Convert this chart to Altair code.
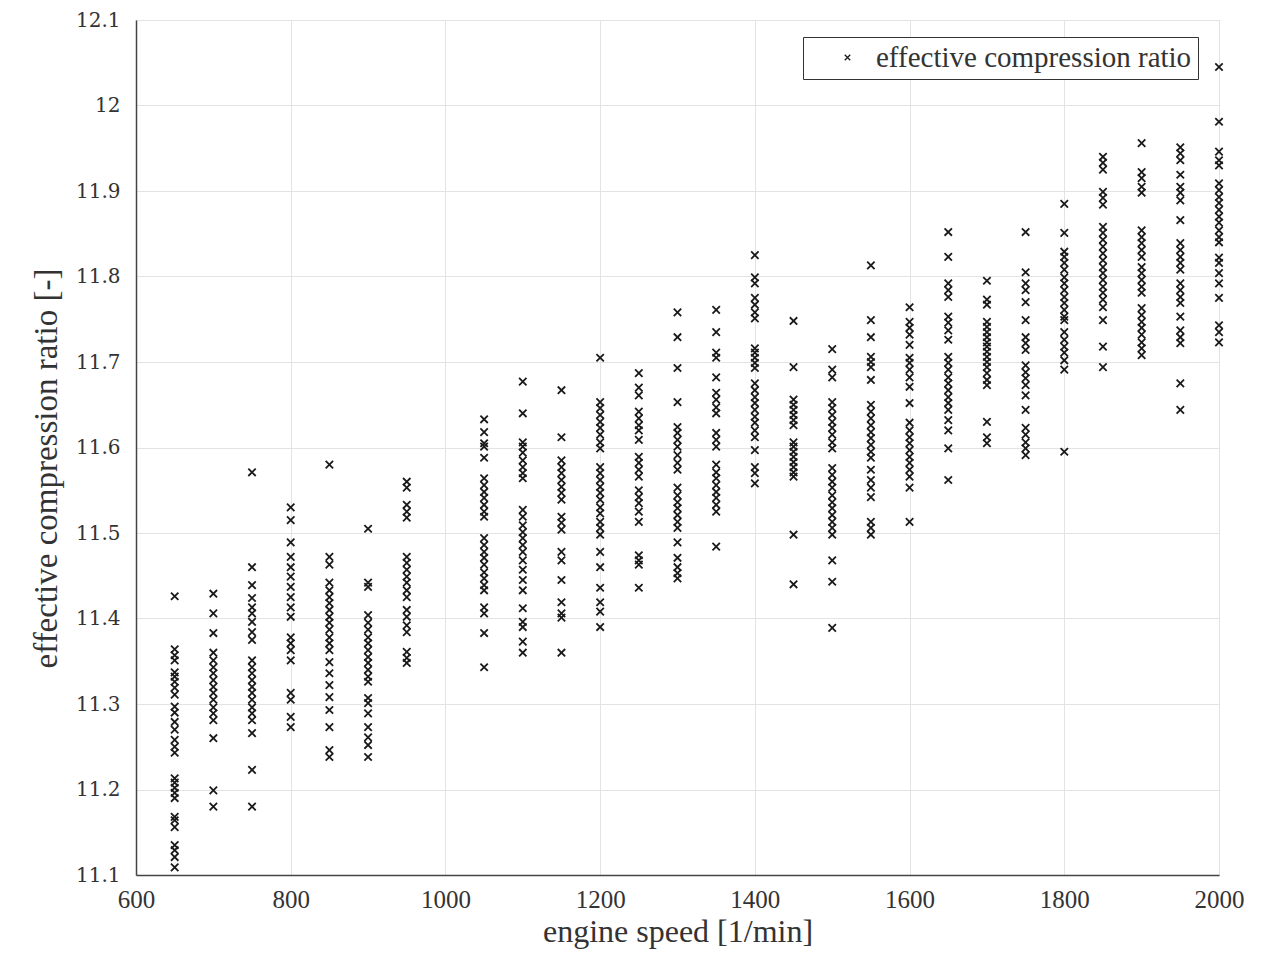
import altair as alt
import pandas as pd

# engine speeds [1/min]
speeds = [650, 700, 750, 800, 850, 900, 950, 1050, 1100, 1150, 1200, 1250, 1300,
          1350, 1400, 1450, 1500, 1550, 1600, 1650, 1700, 1750, 1800, 1850, 1900, 1950, 2000]

r650 = [11.426, 11.364, 11.357, 11.351, 11.337, 11.332, 11.326, 11.319, 11.311, 11.297, 11.290, 11.279, 11.270, 11.258,
        11.250, 11.243, 11.213, 11.208, 11.202, 11.196, 11.190, 11.168, 11.164, 11.156, 11.135, 11.129, 11.121, 11.109]
r700 = [11.429, 11.406, 11.383, 11.360, 11.351, 11.343, 11.336, 11.328, 11.320, 11.313, 11.305, 11.296, 11.289, 11.281,
        11.260, 11.199, 11.180]
r750 = [11.571, 11.460, 11.439, 11.424, 11.413, 11.406, 11.396, 11.384, 11.375, 11.351, 11.343, 11.336, 11.328, 11.320,
        11.313, 11.305, 11.296, 11.289, 11.281, 11.266, 11.223, 11.180]
r800 = [11.530, 11.515, 11.489, 11.472, 11.460, 11.449, 11.437, 11.425, 11.413, 11.402, 11.378, 11.371, 11.363, 11.351,
        11.313, 11.305, 11.285, 11.273]
r850 = [11.580, 11.472, 11.463, 11.442, 11.433, 11.425, 11.418, 11.410, 11.402, 11.395, 11.387, 11.378, 11.371, 11.363,
        11.349, 11.336, 11.322, 11.308, 11.293, 11.273, 11.246, 11.238]
r900 = [11.505, 11.442, 11.437, 11.404, 11.395, 11.387, 11.378, 11.371, 11.363, 11.355, 11.348, 11.340, 11.332, 11.326,
        11.307, 11.301, 11.289, 11.273, 11.261, 11.252, 11.238]
r950 = [11.560, 11.553, 11.533, 11.525, 11.518, 11.472, 11.465, 11.457, 11.449, 11.442, 11.433, 11.425, 11.410, 11.402,
        11.392, 11.384, 11.361, 11.354, 11.348]
r1050 = [11.633, 11.618, 11.605, 11.601, 11.588, 11.564, 11.556, 11.548, 11.541, 11.533, 11.525, 11.519, 11.494, 11.486,
         11.478, 11.471, 11.463, 11.454, 11.447, 11.439, 11.433, 11.413, 11.406, 11.383, 11.343]
r1100 = [11.677, 11.640, 11.606, 11.601, 11.594, 11.585, 11.577, 11.570, 11.564, 11.527, 11.519, 11.509, 11.501, 11.494,
         11.486, 11.478, 11.468, 11.457, 11.445, 11.433, 11.412, 11.396, 11.390, 11.373, 11.360]
r1150 = [11.667, 11.612, 11.585, 11.577, 11.570, 11.562, 11.554, 11.547, 11.539, 11.519, 11.512, 11.504, 11.478, 11.468,
         11.445, 11.419, 11.406, 11.401, 11.360]
r1200 = [11.705, 11.653, 11.646, 11.638, 11.630, 11.623, 11.615, 11.606, 11.599, 11.577, 11.570, 11.562, 11.554, 11.547,
         11.539, 11.530, 11.523, 11.513, 11.506, 11.498, 11.478, 11.460, 11.436, 11.419, 11.408, 11.390]
r1250 = [11.687, 11.670, 11.661, 11.642, 11.634, 11.626, 11.620, 11.609, 11.589, 11.582, 11.574, 11.566, 11.550, 11.542,
         11.535, 11.525, 11.513, 11.474, 11.468, 11.463, 11.436]
r1300 = [11.758, 11.729, 11.693, 11.653, 11.624, 11.617, 11.609, 11.601, 11.591, 11.582, 11.574, 11.553, 11.544, 11.536,
         11.529, 11.521, 11.513, 11.506, 11.489, 11.471, 11.460, 11.453, 11.447]
r1350 = [11.761, 11.735, 11.711, 11.705, 11.682, 11.664, 11.656, 11.647, 11.640, 11.617, 11.609, 11.601, 11.580, 11.571,
         11.564, 11.556, 11.548, 11.541, 11.533, 11.525, 11.484]
r1400 = [11.825, 11.799, 11.792, 11.775, 11.767, 11.758, 11.751, 11.716, 11.711, 11.705, 11.699, 11.693, 11.675, 11.667,
         11.659, 11.652, 11.644, 11.636, 11.629, 11.620, 11.612, 11.597, 11.577, 11.570, 11.558]
r1450 = [11.748, 11.694, 11.656, 11.650, 11.644, 11.638, 11.632, 11.626, 11.606, 11.601, 11.595, 11.589, 11.583, 11.577,
         11.571, 11.566, 11.498, 11.440]
r1500 = [11.715, 11.691, 11.682, 11.653, 11.646, 11.638, 11.630, 11.623, 11.615, 11.606, 11.599, 11.576, 11.568, 11.560,
         11.553, 11.544, 11.536, 11.529, 11.521, 11.513, 11.506, 11.498, 11.468, 11.443, 11.389]
r1550 = [11.813, 11.749, 11.729, 11.706, 11.700, 11.694, 11.679, 11.650, 11.642, 11.634, 11.626, 11.618, 11.611, 11.603,
         11.595, 11.588, 11.574, 11.562, 11.553, 11.542, 11.513, 11.506, 11.498]
r1600 = [11.764, 11.747, 11.740, 11.732, 11.720, 11.705, 11.699, 11.691, 11.682, 11.671, 11.652, 11.629, 11.620, 11.612,
         11.605, 11.597, 11.589, 11.582, 11.574, 11.566, 11.553, 11.513]
r1650 = [11.852, 11.823, 11.792, 11.784, 11.776, 11.753, 11.746, 11.737, 11.726, 11.706, 11.699, 11.691, 11.682, 11.675,
         11.667, 11.659, 11.652, 11.644, 11.632, 11.620, 11.599, 11.562]
r1700 = [11.795, 11.773, 11.767, 11.747, 11.741, 11.735, 11.729, 11.723, 11.718, 11.712, 11.706, 11.700, 11.694, 11.687,
         11.679, 11.673, 11.630, 11.612, 11.605]
r1750 = [11.852, 11.805, 11.792, 11.784, 11.770, 11.749, 11.729, 11.722, 11.714, 11.696, 11.688, 11.681, 11.673, 11.661,
         11.644, 11.623, 11.615, 11.606, 11.599, 11.591]
r1800 = [11.885, 11.851, 11.829, 11.823, 11.816, 11.808, 11.799, 11.792, 11.784, 11.776, 11.769, 11.761, 11.753, 11.749,
         11.735, 11.726, 11.718, 11.711, 11.702, 11.691, 11.595]
r1850 = [11.940, 11.933, 11.925, 11.899, 11.892, 11.884, 11.858, 11.851, 11.843, 11.835, 11.827, 11.819, 11.811, 11.804,
         11.796, 11.788, 11.781, 11.773, 11.764, 11.749, 11.718, 11.694]
r1900 = [11.956, 11.922, 11.915, 11.905, 11.898, 11.854, 11.846, 11.839, 11.831, 11.823, 11.811, 11.804, 11.796, 11.788,
         11.781, 11.763, 11.755, 11.747, 11.740, 11.732, 11.723, 11.716, 11.708]
r1950 = [11.951, 11.944, 11.936, 11.919, 11.905, 11.898, 11.889, 11.866, 11.839, 11.831, 11.823, 11.816, 11.808, 11.792,
         11.784, 11.776, 11.769, 11.753, 11.737, 11.729, 11.722, 11.675, 11.644]
r2000 = [12.045, 11.981, 11.946, 11.936, 11.930, 11.909, 11.901, 11.893, 11.886, 11.878, 11.870, 11.863, 11.854, 11.846,
         11.840, 11.822, 11.816, 11.804, 11.792, 11.775, 11.743, 11.735, 11.723]

columns = [r650, r700, r750, r800, r850, r900, r950, r1050, r1100, r1150, r1200, r1250, r1300,
           r1350, r1400, r1450, r1500, r1550, r1600, r1650, r1700, r1750, r1800, r1850, r1900, r1950, r2000]

x_ticks = [600, 800, 1000, 1200, 1400, 1600, 1800, 2000]
y_ticks = [11.1, 11.2, 11.3, 11.4, 11.5, 11.6, 11.7, 11.8, 11.9, 12.0, 12.1]
series_name = "effective compression ratio"

rows = []
for s, vals in zip(speeds, columns):
    for v in vals:
        rows.append({"speed": s, "ratio": v, "series": series_name})
df = pd.DataFrame(rows)

XPATH = "M-1,-1L1,1M-1,1L1,-1"
SERIF = "Liberation Serif, Times New Roman, serif"

chart = alt.Chart(df).mark_point(
    shape=XPATH, filled=False, size=55, strokeWidth=1.8, opacity=1
).encode(
    x=alt.X("speed:Q",
            scale=alt.Scale(domain=[600, 2000], nice=False, zero=False),
            axis=alt.Axis(values=x_ticks, format="d", title="engine speed [1/min]",
                          labelFont=SERIF, labelFontSize=25, labelColor="#333",
                          labelPadding=12, ticks=False, labelFlush=False, labelOverlap=False,
                          titleFont=SERIF, titleFontSize=32, titleFontWeight="normal",
                          titleColor="#333", titlePadding=4,
                          domainColor="#444", domainWidth=1.5,
                          gridColor="#e3e3e3", gridWidth=1)),
    y=alt.Y("ratio:Q",
            scale=alt.Scale(domain=[11.1, 12.1], nice=False, zero=False),
            axis=alt.Axis(values=y_ticks, format="~g", title="effective compression ratio [-]",
                          labelFont="DejaVu Serif, serif", labelFontSize=20, labelColor="#333",
                          labelPadding=16, ticks=False, labelFlush=False, labelOverlap=False,
                          titleFont=SERIF, titleFontSize=33, titleFontWeight="normal",
                          titleColor="#333", titlePadding=12, titleY=448,
                          domainColor="#444", domainWidth=1.5,
                          gridColor="#e3e3e3", gridWidth=1)),
    color=alt.Color("series:N", scale=alt.Scale(range=["#1a1a1a"]),
                    legend=alt.Legend(title=None, orient="none", legendX=667, legendY=17,
                                      symbolType=XPATH, symbolSize=30, symbolStrokeWidth=1.3,
                                      symbolFillColor="transparent", symbolStrokeColor="#1a1a1a",
                                      labelFont=SERIF, labelFontSize=29, labelLimit=0,
                                      labelColor="#333", labelOffset=14,
                                      symbolOffset=24,
                                      strokeColor="#333", fillColor="white",
                                      padding=6, cornerRadius=0)),
).properties(
    width=1083, height=855,
    autosize=alt.AutoSizeParams(type="none"),
    padding={"left": 128, "top": 12, "right": 56, "bottom": 81},
).configure_view(
    stroke="#dcdcdc", strokeWidth=1
).configure(
    background="white"
)

chart.save("out.html", embed_options={"renderer": "svg", "actions": False})
